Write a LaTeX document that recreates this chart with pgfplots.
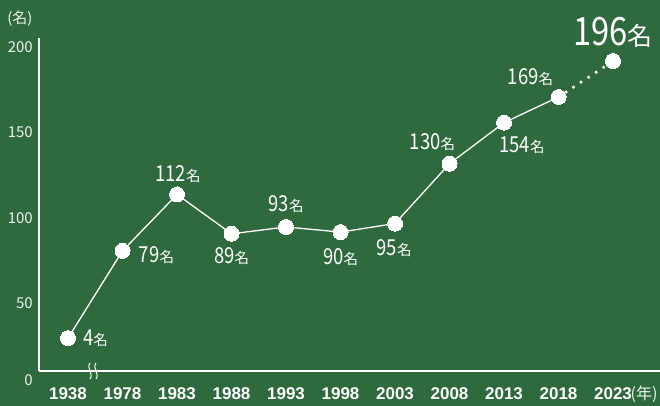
\documentclass[border=0pt]{standalone}
\usepackage{fontspec}
\usepackage{pgfplots}
\pgfplotsset{compat=1.18}
\setmainfont{Noto Sans CJK JP}
\newfontfamily\numfont[FakeStretch=0.84]{Noto Sans CJK JP}
\newfontfamily\jpfont{Noto Sans CJK JP}
\newfontfamily\tickfont{Liberation Sans}
\definecolor{bg}{RGB}{46,106,62}
\newcommand{\lab}[1]{{\fontsize{22}{22}\numfont #1}{\fontsize{14.5}{14.5}\jpfont 名}}
\tikzset{lbl/.style={inner sep=0pt, text=white}}

\pgfplotstableread{
x v
0 28
1 79
2 112
3 89
4 93
5 90
6 95
7 130
8 154
9 169
}\maindata

\begin{document}
\begin{tikzpicture}[x=1pt,y=1pt]
\fill[bg] (0,0) rectangle (660,406);
\begin{axis}[
  at={(39pt,35pt)}, anchor=south west,
  scale only axis, width=621pt, height=333pt,
  xmin=-0.532, xmax=10.862, ymin=8.77, ymax=203.5,
  axis lines=left,
  axis line style={-, white, line width=2.5pt},
  xtick={0,1,2,3,4,5,6,7,8,9,10},
  xticklabels={1938,1978,1983,1988,1993,1998,2003,2008,2013,2018,2023},
  ytick={50,100,150,200},
  extra y ticks={8.77}, extra y tick labels={0},
  extra y tick style={yticklabel style={yshift=-6pt}},
  major tick length=0pt,
  /pgf/number format/assume math mode=true,
  xticklabel style={font=\tickfont\bfseries\fontsize{17}{17}\selectfont, text=white, anchor=center, yshift=-23pt},
  yticklabel style={font=\jpfont\fontsize{15}{15}\selectfont, text=white!92!bg, anchor=east, inner sep=0pt, xshift=-6pt, yshift=-3pt},
  clip=false,
]
\addplot[white, line width=3.5pt, line cap=round, dash pattern=on 0pt off 9pt] coordinates {(9,169) (10,190)};
\addplot[white, line width=1.3pt, mark=*, mark size=7.5pt, mark options={fill=white, draw=white, line width=0pt}] table[x=x,y=v] {\maindata};
\addplot[only marks, white, mark=*, mark size=7.5pt, mark options={fill=white, draw=white, line width=0pt}] coordinates {(10,190)};

\node[lbl, anchor=west, xshift=15pt] at (axis cs:0,28) {\lab{4}};
\node[lbl, xshift=34pt, yshift=-4pt] at (axis cs:1,79) {\lab{79}};
\node[lbl, xshift=1pt, yshift=20pt] at (axis cs:2,112) {\lab{112}};
\node[lbl, yshift=-22pt] at (axis cs:3,89) {\lab{89}};
\node[lbl, yshift=23pt] at (axis cs:4,93) {\lab{93}};
\node[lbl, yshift=-25pt] at (axis cs:5,90) {\lab{90}};
\node[lbl, xshift=-1pt, yshift=-25pt] at (axis cs:6,95) {\lab{95}};
\node[lbl, xshift=-17pt, yshift=22pt] at (axis cs:7,130) {\lab{130}};
\node[lbl, xshift=18pt, yshift=-23pt] at (axis cs:8,154) {\lab{154}};
\node[lbl, xshift=-28pt, yshift=20pt] at (axis cs:9,169) {\lab{169}};
\node[lbl, xshift=0pt, yshift=29pt] at (axis cs:10,190) {{\fontsize{39}{39}\numfont 196}{\fontsize{25}{25}\jpfont 名}};
\end{axis}
% axis break mark
\foreach \dx in {-3,3} {
  \draw[white, line width=1pt] (93+\dx,43) .. controls (93+\dx-4,37) and (93+\dx+4,33) .. (93+\dx,27);
}
\node[text=white!92!bg, inner sep=0pt] at (20,387) {\fontsize{15}{15}\jpfont (名)};
\node[text=white!92!bg, inner sep=0pt] at (644,12) {\fontsize{16}{16}\jpfont (年)};
\pgfresetboundingbox
\useasboundingbox (0,0) rectangle (660,406);
\end{tikzpicture}
\end{document}
